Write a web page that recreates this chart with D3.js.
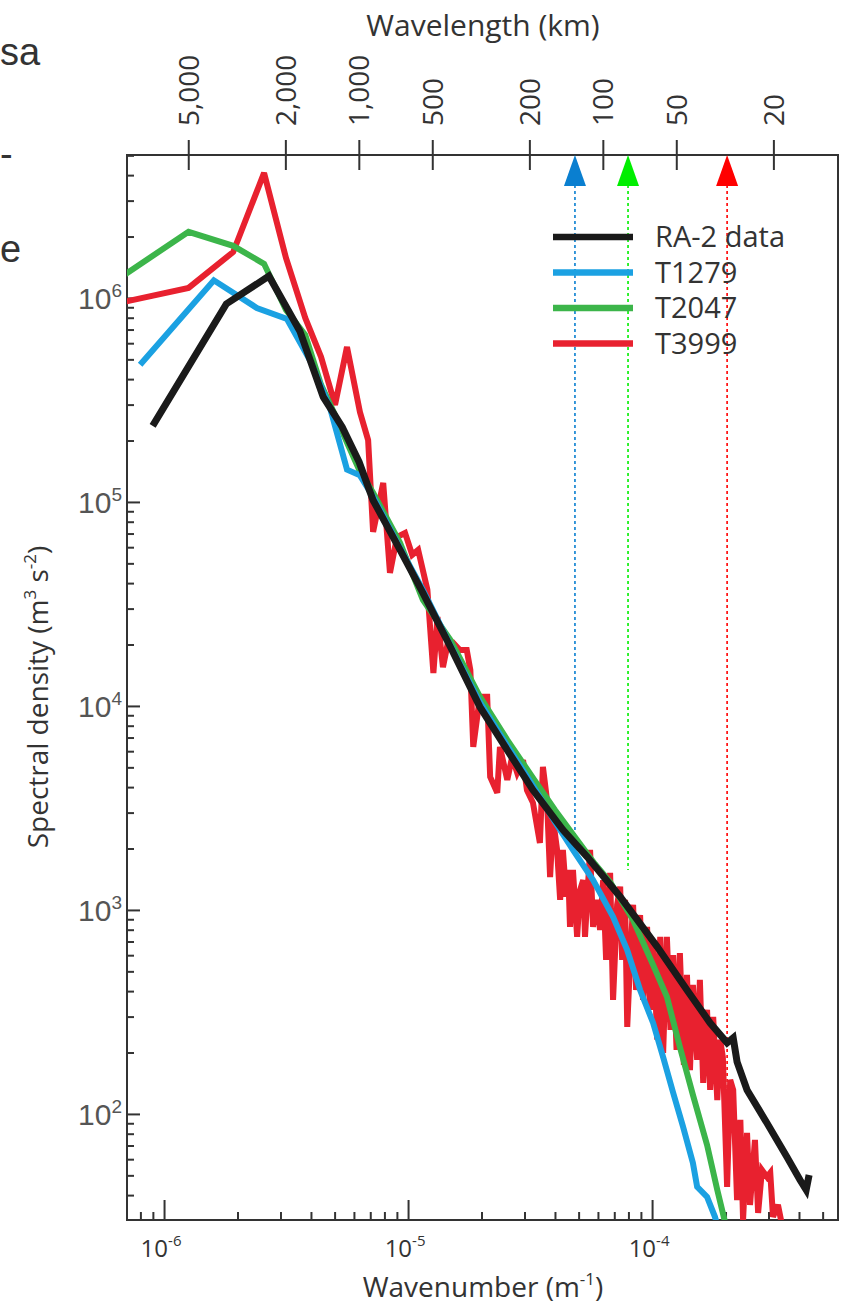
<!DOCTYPE html>
<html>
<head>
<meta charset="utf-8">
<script src="https://cdn.jsdelivr.net/npm/d3@7"></script>
<style>
  body { margin: 0; background: #fff; }
  svg text { font-family: "Open Sans", sans-serif; fill: #333; }
</style>
</head>
<body>
<div id="chart"></div>
<script>
// wavenumbers (m^-1) and spectral densities (m^3 s^-2)
const ra2Wavenumber = [8.98e-7, 1.80e-6, 2.69e-6, 3.60e-6, 4.49e-6, 5.37e-6, 6.30e-6, 7.19e-6, 9.27e-6, 1.15e-5,
    1.49e-5, 1.97e-5, 2.55e-5, 3.25e-5, 4.31e-5, 5.42e-5, 7.40e-5, 1.05e-4, 1.39e-4, 1.73e-4,
    2.03e-4, 2.15e-4, 2.23e-4, 2.45e-4, 2.96e-4, 3.57e-4, 4.04e-4, 4.28e-4, 4.40e-4];
const ra2Density = [2.36e5, 9.35e5, 1.28e6, 6.89e5, 3.27e5, 2.33e5, 1.57e5, 1.02e5, 5.82e4, 3.58e4,
    1.95e4, 9.89e3, 6.08e3, 3.87e3, 2.47e3, 1.82e3, 1.16e3, 659, 405, 279,
    223, 236, 180, 131, 90, 61.5, 47.4, 42.4, 50.2];

const t1279Wavenumber = [7.98e-7, 1.60e-6, 2.40e-6, 3.19e-6, 4.00e-6, 4.79e-6, 5.62e-6, 6.35e-6, 7.19e-6, 9.27e-6,
    1.15e-5, 1.49e-5, 1.97e-5, 2.55e-5, 3.25e-5, 4.00e-5, 4.74e-5, 5.73e-5, 6.92e-5, 7.90e-5,
    8.93e-5, 1.01e-4, 1.11e-4, 1.22e-4, 1.34e-4, 1.47e-4, 1.53e-4, 1.68e-4, 1.81e-4, 1.90e-4];
const t1279Density = [4.70e5, 1.22e6, 8.93e5, 7.89e5, 4.85e5, 2.89e5, 1.44e5, 1.35e5, 1.06e5, 5.96e4,
    3.71e4, 1.99e4, 1.04e4, 6.37e3, 4.06e3, 2.70e3, 1.97e3, 1.40e3, 925, 637,
    405, 279, 190, 127, 86.4, 57.5, 43.9, 39.2, 31.3, 25.5];

const t2047Wavenumber = [6.30e-7, 1.26e-6, 1.92e-6, 2.57e-6, 3.16e-6, 3.79e-6, 4.40e-6, 5.02e-6, 5.68e-6, 6.30e-6,
    7.19e-6, 9.27e-6, 1.15e-5, 1.49e-5, 1.97e-5, 2.55e-5, 3.25e-5, 4.00e-5, 4.93e-5, 5.83e-5,
    6.73e-5, 8.36e-5, 1.01e-4, 1.15e-4, 1.30e-4, 1.47e-4, 1.68e-4, 1.85e-4, 1.95e-4, 2.05e-4];
const t2047Density = [1.21e6, 2.11e6, 1.80e6, 1.47e6, 8.73e5, 6.59e5, 3.75e5, 2.67e5, 1.90e5, 1.44e5,
    1.11e5, 6.30e4, 3.31e4, 2.11e4, 1.11e4, 6.81e3, 4.44e3, 3.09e3, 2.20e3, 1.68e3,
    1.37e3, 893, 537, 375, 213, 124, 70.5, 42.4, 32.7, 25.5];

const t3999Wavenumber = [6.30e-7, 1.26e-6, 1.92e-6, 2.57e-6, 3.16e-6, 3.79e-6, 4.40e-6, 5.02e-6, 5.62e-6, 6.35e-6,
    6.86e-6, 7.19e-6, 7.91e-6, 8.43e-6, 9.01e-6, 9.72e-6, 1.04e-5, 1.10e-5, 1.20e-5, 1.27e-5,
    1.32e-5, 1.39e-5, 1.45e-5, 1.53e-5, 1.63e-5, 1.74e-5, 1.80e-5, 1.85e-5, 1.97e-5, 2.11e-5,
    2.17e-5, 2.32e-5, 2.38e-5, 2.55e-5, 2.67e-5, 2.80e-5, 2.96e-5, 3.07e-5, 3.25e-5, 3.47e-5,
    3.57e-5, 3.71e-5, 3.82e-5, 3.93e-5, 4.08e-5, 4.20e-5, 4.31e-5, 4.45e-5, 4.53e-5, 4.61e-5,
    4.74e-5, 4.93e-5, 5.07e-5, 5.22e-5, 5.31e-5, 5.42e-5, 5.57e-5, 5.73e-5, 5.95e-5, 6.12e-5,
    6.30e-5, 6.48e-5, 6.73e-5, 6.92e-5, 7.19e-5, 7.40e-5, 7.54e-5, 7.75e-5, 7.91e-5, 8.13e-5,
    8.36e-5, 8.60e-5, 8.93e-5, 9.18e-5, 9.54e-5, 9.81e-5, 1.01e-4, 1.05e-4, 1.08e-4, 1.11e-4,
    1.15e-4, 1.19e-4, 1.22e-4, 1.26e-4, 1.30e-4, 1.35e-4, 1.39e-4, 1.43e-4, 1.47e-4, 1.53e-4,
    1.57e-4, 1.62e-4, 1.68e-4, 1.73e-4, 1.78e-4, 1.85e-4, 1.90e-4, 1.95e-4, 2.03e-4, 2.09e-4,
    2.15e-4, 2.23e-4, 2.30e-4, 2.36e-4, 2.45e-4, 2.52e-4, 2.64e-4, 2.72e-4, 2.82e-4, 2.96e-4,
    3.05e-4, 3.13e-4, 3.28e-4, 3.44e-4];
const t3999Density = [9.35e5, 1.12e6, 1.68e6, 4.10e6, 1.57e6, 7.98e5, 5.14e5, 2.99e5, 5.75e5, 2.76e5,
    2.01e5, 7.13e4, 1.24e5, 4.49e4, 6.73e4, 7.05e4, 5.50e4, 5.82e4, 3.71e4, 1.45e4,
    2.73e4, 1.55e4, 1.99e4, 2.04e4, 1.88e4, 1.88e4, 1.50e4, 6.30e3, 1.11e4, 1.11e4,
    4.49e3, 3.75e3, 6.30e3, 4.34e3, 5.62e3, 4.70e3, 5.43e3, 3.87e3, 3.35e3, 2.13e3,
    5.02e3, 3.46e3, 1.45e3, 2.76e3, 1.97e3, 1.12e3, 1.97e3, 1.16e3, 1.57e3, 826,
    1.57e3, 738, 1.25e3, 1.40e3, 738, 1.12e3, 1.97e3, 826, 1.12e3, 798,
    1.40e3, 569, 1.52e3, 362, 1.06e3, 1.30e3, 569, 1.12e3, 267, 569,
    1.06e3, 405, 944, 362, 826, 324, 713, 231, 738, 199,
    738, 258, 601, 206, 615, 174, 480, 164, 429, 184,
    454, 142, 324, 131, 299, 117, 231, 190, 43.9, 147,
    131, 37.8, 93.5, 30.2, 80.7, 35.8, 74.6, 32.7, 53.1, 49.1,
    51.4, 31.3, 35.8, 27.0];

const seriesNames = ['RA-2 data', 'T1279', 'T2047', 'T3999'];
const seriesColors = ['#1a1a1a', '#1ba1e2', '#3cb54a', '#e8212f'];

// effective resolution markers (wavenumber, where the dotted guide stops)
const markerWavenumber = [4.83e-5, 7.97e-5, 2.03e-4];
const markerDensity = [2.08e3, 1.57e3, 51.4];
const markerColors = ['#0a7fd0', '#00ee00', '#ff0000'];

const wavelengthTicks = [5000, 2000, 1000, 500, 200, 100, 50, 20];   // km
const wavenumberDecades = [-6, -5, -4];
const densityDecades = [2, 3, 4, 5, 6];

class SpectrumChart {
    constructor(parent) {
        this.config = {
            parentElement: parent,
            containerWidth: 842,
            containerHeight: 1308,
            margin: { top: 155, right: 4, bottom: 88, left: 127 }
        };
        this.initVis();
    }

    initVis() {
        let vis = this;
        const m = vis.config.margin;
        vis.width = vis.config.containerWidth - m.left - m.right;
        vis.height = vis.config.containerHeight - m.top - m.bottom;

        vis.xScale = d3.scaleLog().domain([7.05e-7, 5.78e-4]).range([0, vis.width]);
        vis.yScale = d3.scaleLog().domain([30.2, 5.02e6]).range([vis.height, 0]);

        vis.svg = d3.select(vis.config.parentElement).append('svg')
            .attr('width', vis.config.containerWidth)
            .attr('height', vis.config.containerHeight);

        // bits of the neighbouring page text
        const frag = vis.svg.append('g')
            .style('font-family', '"Liberation Sans", Arial, sans-serif')
            .style('font-size', '38px');
        frag.append('text').attr('x', 0).attr('y', 65).style('font-family', '"Liberation Sans"').text('sa');
        frag.append('text').attr('x', 0).attr('y', 167).style('font-family', '"Liberation Sans"').text('-');
        frag.append('text').attr('x', 0).attr('y', 262).style('font-family', '"Liberation Sans"').text('e');

        vis.chart = vis.svg.append('g')
            .attr('transform', `translate(${m.left},${m.top})`);

        vis.chart.append('clipPath').attr('id', 'plot-clip')
            .append('rect').attr('width', vis.width).attr('height', vis.height);

        vis.renderVis();
    }

    renderVis() {
        let vis = this;
        const x = vis.xScale, y = vis.yScale;

        // minor ticks for both log axes
        const xMinor = [];
        for (let e = -7; e <= -4; e++) for (let i = 1; i <= 9; i++) {
            const v = i * Math.pow(10, e);
            if (v >= x.domain()[0] && v <= x.domain()[1]) xMinor.push(v);
        }
        const yMinor = [];
        for (let e = 1; e <= 6; e++) for (let i = 1; i <= 9; i++) {
            const v = i * Math.pow(10, e);
            if (v >= y.domain()[0] && v <= y.domain()[1]) yMinor.push(v);
        }
        const isDecade = v => Math.abs(Math.log10(v) - Math.round(Math.log10(v))) < 1e-6;

        // bottom axis, ticks pointing inward
        const xAxisG = vis.chart.append('g')
            .attr('transform', `translate(0,${vis.height})`)
            .call(d3.axisBottom(x).tickValues(xMinor).tickSize(-8).tickFormat(''));
        xAxisG.selectAll('.tick line')
            .attr('y2', d => isDecade(d) ? -20 : -8)
            .attr('stroke', '#333').attr('stroke-width', 2);
        xAxisG.select('.domain').remove();

        const xLabels = vis.chart.append('g').selectAll('text')
            .data(wavenumberDecades)
            .join('text')
            .attr('x', d => x(Math.pow(10, d)) - 3)
            .attr('y', vis.height + 37)
            .attr('text-anchor', 'middle')
            .style('font-size', '24px');
        xLabels.append('tspan').text('10');
        xLabels.append('tspan').attr('dy', -11).style('font-size', '15px').text(d => d);

        // left axis, ticks pointing inward
        const yAxisG = vis.chart.append('g')
            .call(d3.axisLeft(y).tickValues(yMinor).tickSize(-7).tickFormat(''));
        yAxisG.selectAll('.tick line')
            .attr('x2', d => isDecade(d) ? 13 : 7)
            .attr('stroke', '#333').attr('stroke-width', 2);
        yAxisG.select('.domain').remove();

        const yLabels = vis.chart.append('g').selectAll('text')
            .data(densityDecades)
            .join('text')
            .attr('x', -5)
            .attr('y', d => y(Math.pow(10, d)) + 11)
            .attr('text-anchor', 'end')
            .style('font-family', '"Liberation Sans", Arial, sans-serif')
            .style('font-size', '30px')
            .style('fill', '#555');
        yLabels.append('tspan').text('10');
        yLabels.append('tspan').attr('dy', -12).style('font-size', '19px').text(d => d);

        // top axis: wavelength in km, k = 2*pi / lambda
        const toK = km => 2 * Math.PI / (km * 1000);
        const topAxisG = vis.chart.append('g')
            .call(d3.axisTop(x).tickValues(wavelengthTicks.map(toK)).tickSize(15)
                .tickFormat((d, i) => d3.format(',')(wavelengthTicks[i])));
        topAxisG.select('.domain').remove();
        topAxisG.selectAll('.tick line')
            .attr('y1', 15).attr('y2', -15)
            .attr('stroke', '#333').attr('stroke-width', 2);
        topAxisG.selectAll('.tick text')
            .attr('transform', 'rotate(-90)')
            .attr('x', 29).attr('y', 0).attr('dy', '0.36em')
            .style('text-anchor', 'start')
            .style('font-family', '"Open Sans", sans-serif')
            .style('font-size', '28px')
            .style('fill', '#333');

        // frame
        vis.chart.append('rect')
            .attr('width', vis.width).attr('height', vis.height)
            .attr('fill', 'none').attr('stroke', '#333').attr('stroke-width', 2);

        // resolution markers
        const markers = markerWavenumber.map((k, i) => ({ k: k, s: markerDensity[i], color: markerColors[i] }));
        vis.chart.append('g').selectAll('line')
            .data(markers)
            .join('line')
            .attr('x1', d => x(d.k)).attr('x2', d => x(d.k))
            .attr('y1', 30).attr('y2', d => y(d.s))
            .attr('stroke', d => d.color)
            .attr('stroke-width', 1.6)
            .attr('stroke-dasharray', '3,3');

        // spectra, red underneath and the observations on top
        const seriesData = [
            { name: 'T3999', k: t3999Wavenumber, s: t3999Density },
            { name: 'T2047', k: t2047Wavenumber, s: t2047Density },
            { name: 'T1279', k: t1279Wavenumber, s: t1279Density },
            { name: 'RA-2 data', k: ra2Wavenumber, s: ra2Density }
        ];
        const color = d3.scaleOrdinal().domain(seriesNames).range(seriesColors);
        const line = d3.line().x(d => x(d[0])).y(d => y(d[1]));

        vis.chart.append('g').attr('clip-path', 'url(#plot-clip)')
            .selectAll('path')
            .data(seriesData)
            .join('path')
            .attr('d', d => line(d.k.map((k, i) => [k, d.s[i]])))
            .attr('fill', 'none')
            .attr('stroke', d => color(d.name))
            .attr('stroke-width', d => d.name === 'RA-2 data' ? 7 : 6)
            .attr('stroke-linejoin', 'miter')
            .attr('stroke-miterlimit', 3);

        vis.chart.append('g').selectAll('path')
            .data(markers)
            .join('path')
            .attr('d', d => `M${x(d.k)},0 L${x(d.k) + 11},31 L${x(d.k) - 11},31 Z`)
            .attr('fill', d => d.color);

        // legend
        const legend = vis.chart.append('g').attr('transform', 'translate(426,82)');
        const items = legend.selectAll('g')
            .data(seriesNames)
            .join('g')
            .attr('transform', (d, i) => `translate(0,${i * 35.5})`);
        items.append('line')
            .attr('x1', 0).attr('x2', 80)
            .attr('stroke', d => color(d))
            .attr('stroke-width', 6.5);
        items.append('text')
            .attr('x', 102).attr('y', 10)
            .style('font-size', '29px')
            .text(d => d);

        // axis titles
        vis.svg.append('text')
            .attr('x', 483).attr('y', 36)
            .attr('text-anchor', 'middle')
            .style('font-size', '30px')
            .text('Wavelength (km)');

        const xt = vis.svg.append('text')
            .attr('x', 483).attr('y', 1297)
            .attr('text-anchor', 'middle')
            .style('font-size', '28px');
        xt.append('tspan').text('Wavenumber (m');
        xt.append('tspan').attr('dy', -12).style('font-size', '17px').text('-1');
        xt.append('tspan').attr('dy', 12).text(')');

        const yt = vis.svg.append('text')
            .attr('transform', 'translate(48,697) rotate(-90)')
            .attr('text-anchor', 'middle')
            .style('font-size', '28px');
        yt.append('tspan').text('Spectral density (m');
        yt.append('tspan').attr('dy', -12).style('font-size', '17px').text('3');
        yt.append('tspan').attr('dy', 12).text(' s');
        yt.append('tspan').attr('dy', -12).style('font-size', '17px').text('-2');
        yt.append('tspan').attr('dy', 12).text(')');
    }
}

const spectrumChart = new SpectrumChart('#chart');
</script>
</body>
</html>
